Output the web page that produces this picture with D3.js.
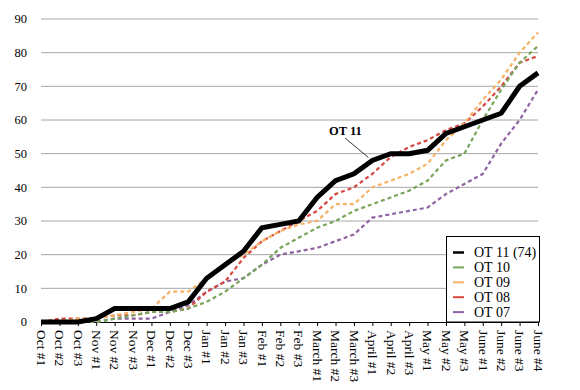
<!DOCTYPE html>
<html>
<head>
<meta charset="utf-8">
<script src="https://cdn.jsdelivr.net/npm/d3@7"></script>
<style>
  body { margin: 0; background: #fff; }
  text { font-family: "Liberation Serif", "DejaVu Serif", serif; }
</style>
</head>
<body>
<script>
// catégories (semaines de la saison)
const weeks = ["Oct #1", "Oct #2", "Oct #3", "Nov #1", "Nov #2", "Nov #3",
  "Dec #1", "Dec #2", "Dec #3", "Jan #1", "Jan #2", "Jan #3",
  "Feb #1", "Feb #2", "Feb #3", "March #1", "March #2", "March #3",
  "April #1", "April #2", "April #3", "May #1", "May #2", "May #3",
  "June #1", "June #2", "June #3", "June #4"];

const ot11 = [0, 0, 0, 1, 4, 4, 4, 4, 6, 13, 17, 21, 28, 29, 30, 37, 42, 44, 48, 50, 50, 51, 56, 58, 60, 62, 70, 74];
const ot10 = [0, 0, 0, 0, 1, 2, 3, 3, 4, 6, 9, 13, 17, 22, 25, 28, 30, 33, 35, 37, 39, 42, 48, 50, 60, 69, 77, 82];
const ot09 = [0, 0, 1, 1, 2, 3, 4, 9, 9, 13, 17, 20, 24, 27, 29, 30, 35, 35, 40, 42, 44, 47, 54, 59, 66, 72, 80, 86];
const ot08 = [0, 1, 1, 1, 2, 2, 3, 3, 4, 9, 12, 19, 24, 27, 30, 33, 38, 40, 44, 49, 52, 54, 57, 59, 64, 70, 77, 79];
const ot07 = [0, 0, 0, 0, 1, 1, 1, 3, 5, 9, 12, 13, 17, 20, 21, 22, 24, 26, 31, 32, 33, 34, 38, 41, 44, 53, 60, 69];

const yTicks = [0, 10, 20, 30, 40, 50, 60, 70, 80, 90];
const legendLabels = ["OT 11 (74)", "OT 10", "OT 09", "OT 08", "OT 07"];

// séries dessinées : les pointillés d'abord, OT 11 par-dessus
const series = [
  { name: "OT 07", values: ot07, color: "#8e62a0" },
  { name: "OT 08", values: ot08, color: "#d6473f" },
  { name: "OT 09", values: ot09, color: "#f5b164" },
  { name: "OT 10", values: ot10, color: "#78a55a" },
  { name: "OT 11", values: ot11, color: "#000" }
];
const legendColors = ["#000", "#78a55a", "#f5b164", "#d6473f", "#8e62a0"];

const width = 580, height = 390;
const margin = { top: 19, right: 42, bottom: 68, left: 41 };

const svg = d3.select("body").append("svg")
  .attr("width", width)
  .attr("height", height);

const x = d3.scalePoint()
  .domain(weeks)
  .range([margin.left, width - margin.right]);

const y = d3.scaleLinear()
  .domain([0, 90])
  .range([height - margin.bottom, margin.top]);

// lignes de grille
svg.append("g")
  .selectAll("line")
  .data(yTicks.filter(d => d > 0))
  .join("line")
  .attr("x1", margin.left)
  .attr("x2", width - margin.right)
  .attr("y1", d => y(d))
  .attr("y2", d => y(d))
  .attr("stroke", "#a6a6a6")
  .attr("stroke-width", 1);

// axe Y (libellés seulement)
svg.append("g")
  .selectAll("text")
  .data(yTicks)
  .join("text")
  .attr("x", 27)
  .attr("y", d => y(d))
  .attr("dy", "0.35em")
  .attr("text-anchor", "end")
  .attr("font-size", 12.5)
  .text(d => d);

// axe X
const xAxis = svg.append("g")
  .attr("transform", `translate(0,${y(0)})`)
  .call(d3.axisBottom(x).tickSize(4).tickSizeOuter(0).tickPadding(0));
xAxis.select(".domain").attr("stroke", "#000").attr("stroke-width", 1.2);
xAxis.selectAll(".tick line").attr("stroke", "#000");
xAxis.selectAll(".tick text")
  .attr("font-family", "Liberation Serif, serif")
  .attr("font-size", 13.5)
  .attr("fill", "#000")
  .attr("text-anchor", "start")
  .attr("transform", "translate(0,8) rotate(90)")
  .attr("x", 0)
  .attr("y", 0)
  .attr("dy", "0.35em");

// courbes
const line = d3.line()
  .x((d, i) => x(weeks[i]))
  .y(d => y(d));

svg.append("g")
  .selectAll("path")
  .data(series)
  .join("path")
  .attr("d", d => line(d.values))
  .attr("fill", "none")
  .attr("stroke", d => d.color)
  .attr("stroke-width", d => d.name === "OT 11" ? 5 : 2.2)
  .attr("stroke-dasharray", d => d.name === "OT 11" ? null : "4,3")
  .attr("stroke-linejoin", "miter");

// annotation OT 11
const iAnn = weeks.indexOf("April #1");
svg.append("line")
  .attr("x1", 345).attr("y1", 138)
  .attr("x2", x(weeks[iAnn]) - 4).attr("y2", y(ot11[iAnn]) - 3)
  .attr("stroke", "#000")
  .attr("stroke-width", 0.8);
svg.append("text")
  .attr("x", 329)
  .attr("y", 135)
  .attr("font-size", 12.5)
  .attr("font-weight", "bold")
  .text("OT 11");

// légende
const lg = svg.append("g");
lg.append("rect")
  .attr("x", 446.5).attr("y", 236.5)
  .attr("width", 93).attr("height", y(0) - 236.5)
  .attr("fill", "#fff")
  .attr("stroke", "#000")
  .attr("stroke-width", 1);

const items = lg.selectAll("g.item")
  .data(legendLabels)
  .join("g")
  .attr("class", "item")
  .attr("transform", (d, i) => `translate(0,${252.5 + i * 14.9})`);

items.append("line")
  .attr("x1", 453).attr("x2", 464)
  .attr("stroke", (d, i) => legendColors[i])
  .attr("stroke-width", (d, i) => i === 0 ? 2.5 : 2);

items.append("text")
  .attr("x", 474)
  .attr("dy", "0.35em")
  .attr("font-size", 14)
  .text(d => d);
</script>
</body>
</html>
